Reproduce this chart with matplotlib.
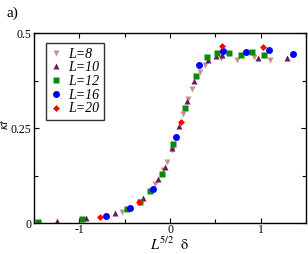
import matplotlib
matplotlib.use('Agg')
import matplotlib.pyplot as plt
from matplotlib.ticker import MultipleLocator

plt.rcParams['font.family'] = ['Liberation Serif', 'DejaVu Serif']
plt.rcParams['mathtext.fontset'] = 'stix'

# scaled data
x_L8 = [-0.53, -0.17, -0.08, -0.03, 0.02, 0.145, 0.20, 0.24, 0.33, 0.385, 0.56, 0.74, 0.92, 1.10]
y_L8 = [0.029, 0.103, 0.14, 0.16, 0.192, 0.286, 0.326, 0.353, 0.397, 0.416, 0.434, 0.43, 0.437, 0.43]

x_L10 = [-1.25, -0.93, -0.61, -0.30, -0.13, -0.06, 0.02, 0.10, 0.19, 0.26, 0.42, 0.51, 0.575, 0.97, 1.29]
y_L10 = [0.005, 0.013, 0.026, 0.066, 0.116, 0.148, 0.197, 0.255, 0.32, 0.373, 0.43, 0.44, 0.442, 0.434, 0.434]

x_L12 = [-1.46, -0.97, -0.475, -0.33, -0.22, -0.09, 0.035, 0.16, 0.29, 0.41, 0.52, 0.65, 0.78, 0.90, 1.04]
y_L12 = [0.003, 0.010, 0.037, 0.055, 0.085, 0.13, 0.208, 0.302, 0.387, 0.437, 0.447, 0.447, 0.442, 0.45, 0.442]

x_L16 = [-0.71, -0.44, -0.19, 0.07, 0.32, 0.58, 0.84, 1.09, 1.36]
y_L16 = [0.018, 0.04, 0.09, 0.227, 0.416, 0.453, 0.45, 0.455, 0.445]

x_L20 = [-0.77, -0.34, 0.12, 0.575, 1.02]
y_L20 = [0.016, 0.055, 0.265, 0.466, 0.463]

fig = plt.figure(figsize=(3.08, 2.54), dpi=100)
ax = fig.add_axes([0.110, 0.122, 0.884, 0.748])

ax.plot(x_L8, y_L8, 'v', color='#c09494', ms=5, mec='none', label='L=8')
ax.plot(x_L10, y_L10, '^', color='#6b1a58', ms=5, mec='none', label='L=10')
ax.plot(x_L12, y_L12, 's', color='#0a8a0a', ms=4.5, mec='none', label='L=12')
ax.plot(x_L16, y_L16, 'o', color='#0000ff', ms=5, mec='none', label='L=16')
ax.plot(x_L20, y_L20, 'D', color='#ff0000', ms=3.5, mec='none', label='L=20')

ax.set_xlim(-1.5, 1.5)
ax.set_ylim(0, 0.5)
ax.set_xticks([-1, 0, 1])
ax.set_xticklabels(['-1', '0', '1'])
ax.set_yticks([0, 0.25, 0.5])
ax.set_yticklabels(['0', '0.25', '0.5'])
ax.xaxis.set_minor_locator(MultipleLocator(0.5))
ax.yaxis.set_minor_locator(MultipleLocator(0.125))
ax.tick_params(which='both', direction='in', top=True, right=True, labelsize=8.5, width=0.8)
ax.tick_params(which='major', length=3.5, pad=2)
ax.tick_params(axis='x', which='major', pad=1)
ax.tick_params(which='minor', length=3)
for s in ax.spines.values():
    s.set_linewidth(1.0)

ax.set_xlabel(r'$L^{5/2}\ \ \mathrm{\delta}$', fontsize=10.5, labelpad=-0.5)
ax.set_ylabel(r'$\kappa t$', fontsize=9.5, va='center')
ax.yaxis.set_label_coords(-0.105, 0.52)

leg = ax.legend(loc='upper left', bbox_to_anchor=(0.045, 0.945),
                prop={'style': 'italic', 'size': 10}, frameon=True, fancybox=False,
                edgecolor='black', handlelength=0.8, handletextpad=0.5,
                labelspacing=0.05, borderpad=0.3, borderaxespad=0)
leg.get_frame().set_linewidth(1.0)

fig.text(0.022, 0.975, 'a)', fontsize=11, va='top', ha='left')

fig.savefig('out.png', dpi=100)
